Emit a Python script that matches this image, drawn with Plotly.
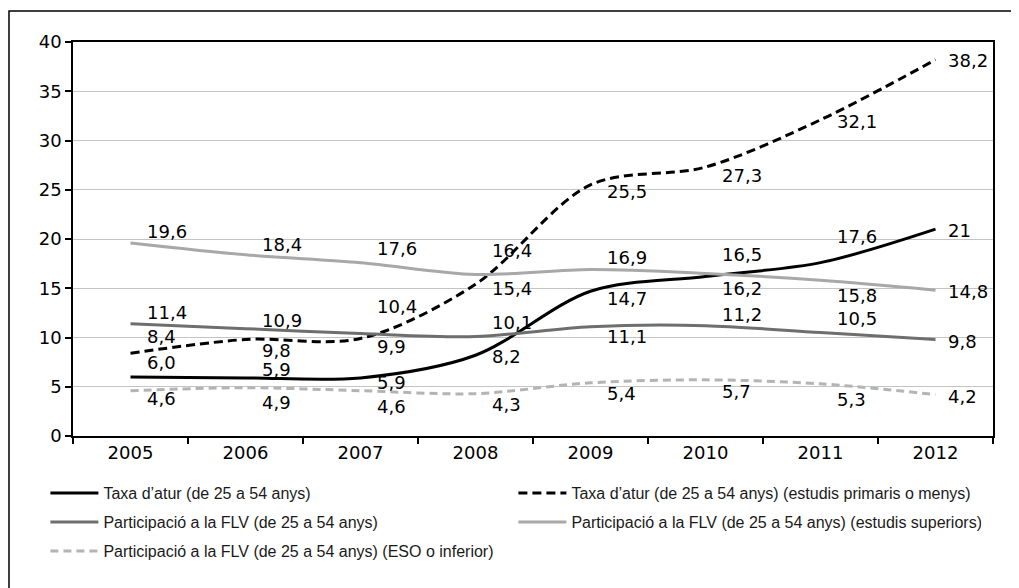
import plotly.graph_objects as go

years = ["2005", "2006", "2007", "2008", "2009", "2010", "2011", "2012"]

taxa_atur = [6.0, 5.9, 5.9, 8.2, 14.7, 16.2, 17.6, 21]
taxa_atur_primaris = [8.4, 9.8, 9.9, 15.4, 25.5, 27.3, 32.1, 38.2]
particip_flv = [11.4, 10.9, 10.4, 10.1, 11.1, 11.2, 10.5, 9.8]
particip_superiors = [19.6, 18.4, 17.6, 16.4, 16.9, 16.5, 15.8, 14.8]
particip_eso = [4.6, 4.9, 4.6, 4.3, 5.4, 5.7, 5.3, 4.2]

names = [
    "Taxa d\u2019atur (de 25 a 54 anys)",
    "Taxa d\u2019atur (de 25 a 54 anys) (estudis primaris o menys)",
    "Participació a la FLV (de 25 a 54 anys)",
    "Participació a la FLV (de 25 a 54 anys) (estudis superiors)",
    "Participació a la FLV (de 25 a 54 anys) (ESO o inferior)",
]

# styles
series = [taxa_atur, taxa_atur_primaris, particip_flv, particip_superiors, particip_eso]
colors = ["#000000", "#000000", "#6e6e6e", "#a8a8a8", "#b4b4b4"]
dashes = ["solid", "9px,5px", "solid", "solid", "8px,5px"]
legends = ["legend", "legend", "legend2", "legend2", "legend3"]
# vertical label offsets (px, negative = above)
label_dy = [
    [-14, -8, 5, 1.5, 7, 12, -26, 1],
    [-17, 11, 8, 4, 7, 8, 2, 1],
    [-11, -8, -27, -14, 10, -11, -14, 2],
    [-11, -10, -14, -24, -12.5, -18.5, 15, 1],
    [8, 15, 16, 11, 10.5, 12, 16, 2],
]

FONT = "DejaVu Sans"

# page body has an 8px margin, so the figure is sized/offset to compensate
W, H = 1011, 580
L, T, PW, PH = 65, 34, 920, 394


def fmt(v, last):
    if last and float(v).is_integer():
        return str(int(v))
    return ("%.1f" % v).replace(".", ",")


fig = go.Figure()
for s, nm, c, d, lg in zip(series, names, colors, dashes, legends):
    fig.add_trace(go.Scatter(
        x=years, y=s, name=nm, mode="lines",
        line=dict(color=c, width=3, dash=d, shape="spline", smoothing=0.9),
        legend=lg,
    ))

annotations = []
for s, dys in zip(series, label_dy):
    for i, v in enumerate(s):
        last = i == len(years) - 1
        annotations.append(dict(
            x=i, y=v, xref="x", yref="y", text=fmt(v, last), showarrow=False,
            xanchor="left", yanchor="middle",
            xshift=10 if last else 14, yshift=-dys[i],
            font=dict(family=FONT, size=18, color="#000"),
        ))

fig.update_layout(
    width=W, height=H,
    margin=dict(l=L, r=W - L - PW, t=T, b=H - T - PH, autoexpand=False),
    paper_bgcolor="white", plot_bgcolor="white",
    annotations=annotations,
    showlegend=True,
    shapes=[dict(type="rect", xref="paper", yref="paper",
                 x0=(1 - L) / PW, x1=(1009.5 - L) / PW,
                 y0=(T + PH - 600) / PH, y1=(T + PH - 3) / PH,
                 line=dict(color="#000", width=1.5), layer="below")],
)

leg_common = dict(orientation="h", x=-0.03, xanchor="left", yanchor="middle",
                  itemwidth=48, entrywidthmode="pixels", entrywidth=405,
                  font=dict(family="Liberation Sans", size=16, color="#1a1a1a"),
                  bgcolor="rgba(0,0,0,0)", itemclick=False, traceorder="normal")
fig.update_layout(
    legend=dict(y=(436 - 493) / PH, **leg_common),
    legend2=dict(y=(436 - 522) / PH, **leg_common),
    legend3=dict(y=(436 - 551) / PH, **leg_common),
)

fig.update_xaxes(
    type="category", categoryorder="array", categoryarray=years,
    range=[-0.5, len(years) - 0.5],
    showline=True, linecolor="#000", linewidth=1.5, mirror=True,
    ticks="outside", tickson="boundaries", ticklen=6, tickcolor="#000", tickwidth=1.5,
    showgrid=False, tickangle=0, tickfont=dict(family=FONT, size=18, color="#000"),
)
fig.update_yaxes(
    range=[0, 40], dtick=5, showline=True, linecolor="#000", linewidth=1.5, mirror=True,
    ticks="outside", ticklen=6, tickcolor="#000", tickwidth=1.5,
    showgrid=True, gridcolor="#c4c4c4", gridwidth=1.2, zeroline=False,
    tickfont=dict(family=FONT, size=18, color="#000"),
)

fig.write_html("out.html")
